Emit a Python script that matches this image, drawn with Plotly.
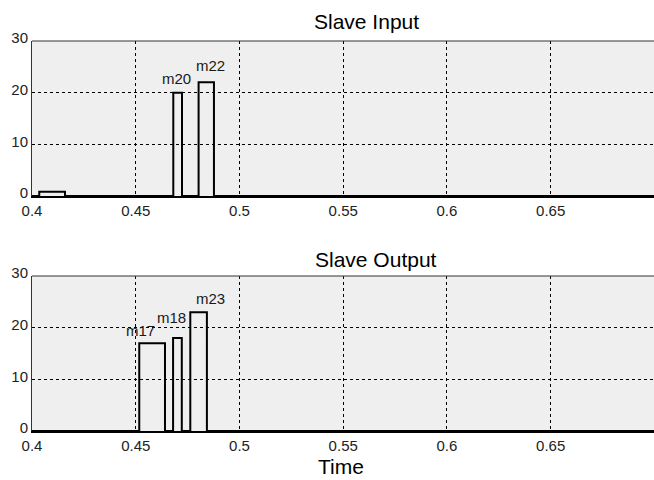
import plotly.graph_objects as go
from plotly.subplots import make_subplots

# ---- data ----
x_range = [0.4, 0.6998]
x_ticks = [0.4, 0.45, 0.5, 0.55, 0.6, 0.65]
x_tick_labels = ["0.4", "0.45", "0.5", "0.55", "0.6", "0.65"]
y_ticks = [0, 10, 20, 30]

in_starts = [0.4035, 0.4681, 0.4803]
in_ends = [0.4159, 0.4723, 0.4877]
in_heights = [0.8, 20, 22]
in_labels = ["", "m20", "m22"]

out_starts = [0.4517, 0.4680, 0.4763]
out_ends = [0.4641, 0.4722, 0.4843]
out_heights = [17, 18, 23]
out_labels = ["m17", "m18", "m23"]

titles = ["Slave Input", "Slave Output"]
x_title = "Time"

# ---- styling ----
FONT = "Arial, Liberation Sans, sans-serif"
# per-label pixel offsets (xshift, yshift)
in_label_shift = [(0, 0), (-1, 4), (4, 6)]
out_label_shift = [(-12, 2), (-6, 10), (12, 3)]


def step_path(starts, ends, heights, x0, x1):
    xs, ys = [x0], [0]
    for s, e, h in zip(starts, ends, heights):
        xs += [s, s, e, e]
        ys += [0, h, h, 0]
    xs.append(x1)
    ys.append(0)
    return xs, ys


fig = make_subplots(rows=2, cols=1, vertical_spacing=0.0)

for row, (st, en, hs) in enumerate([(in_starts, in_ends, in_heights),
                                    (out_starts, out_ends, out_heights)], start=1):
    xs, ys = step_path(st, en, hs, x_range[0], x_range[1])
    fig.add_trace(go.Scatter(x=xs, y=ys, mode="lines",
                             line=dict(color="black", width=2),
                             hoverinfo="skip", showlegend=False, cliponaxis=False),
                  row=row, col=1)

# bar labels
for row, (st, en, hs, labs, shifts) in enumerate(
        [(in_starts, in_ends, in_heights, in_labels, in_label_shift),
         (out_starts, out_ends, out_heights, out_labels, out_label_shift)], start=1):
    xref = "x" if row == 1 else "x2"
    yref = "y" if row == 1 else "y2"
    for s, e, h, lab, (dx, dy) in zip(st, en, hs, labs, shifts):
        if not lab:
            continue
        fig.add_annotation(x=(s + e) / 2, y=h, xref=xref, yref=yref, text=lab,
                           showarrow=False, xanchor="center", yanchor="bottom",
                           xshift=dx, yshift=dy,
                           font=dict(family=FONT, size=15, color="#1a1a1a"))

top_dom = [0.6026, 1.0]
bot_dom = [0.0, 0.3974]

axis_common = dict(
    range=x_range, tickvals=x_ticks, ticktext=x_tick_labels,
    showgrid=True, gridcolor="black", gridwidth=1, griddash="3px,3px",
    showline=True, linecolor="black", linewidth=2, mirror=False,
    ticks="", zeroline=False, automargin=False,
    tickfont=dict(family=FONT, size=15, color="#222222"),
)
yaxis_common = dict(
    range=[0, 30], tickvals=y_ticks,
    showgrid=True, gridcolor="black", gridwidth=1, griddash="3px,3px",
    showline=True, linecolor="#333333", linewidth=1,
    ticks="", zeroline=False, automargin=False, ticklabelshift=-3,
    tickfont=dict(family=FONT, size=15, color="#222222"),
)

fig.update_layout(
    width=654, height=480,
    margin=dict(l=32, r=0, t=41, b=49, autoexpand=False),
    paper_bgcolor="white", plot_bgcolor="#efefef",
    showlegend=False,
    xaxis=dict(axis_common, domain=[0, 1], anchor="y"),
    xaxis2=dict(axis_common, domain=[0, 1], anchor="y2"),
    yaxis=dict(yaxis_common, domain=top_dom, anchor="x"),
    yaxis2=dict(yaxis_common, domain=bot_dom, anchor="x2"),
)

# top border lines of each axes
for dom in (top_dom, bot_dom):
    fig.add_shape(type="line", xref="paper", yref="paper",
                  x0=0, x1=1, y0=dom[1], y1=dom[1],
                  line=dict(color="#333333", width=1))

# titles
fig.add_annotation(text=titles[0], xref="paper", yref="paper", x=0.537, y=top_dom[1],
                   xanchor="center", yanchor="bottom", yshift=6, showarrow=False,
                   font=dict(family=FONT, size=21, color="black"))
fig.add_annotation(text=titles[1], xref="paper", yref="paper", x=0.553, y=bot_dom[1],
                   xanchor="center", yanchor="bottom", yshift=3, showarrow=False,
                   font=dict(family=FONT, size=21, color="black"))
fig.add_annotation(text=x_title, xref="paper", yref="paper", x=0.497, y=0,
                   xanchor="center", yanchor="bottom", yshift=-49, showarrow=False,
                   font=dict(family=FONT, size=21, color="black"))

fig.write_html(
    "out.html",
    config={"displayModeBar": False},
    post_script="document.body.style.margin='0';document.body.style.overflow='hidden';",
)
